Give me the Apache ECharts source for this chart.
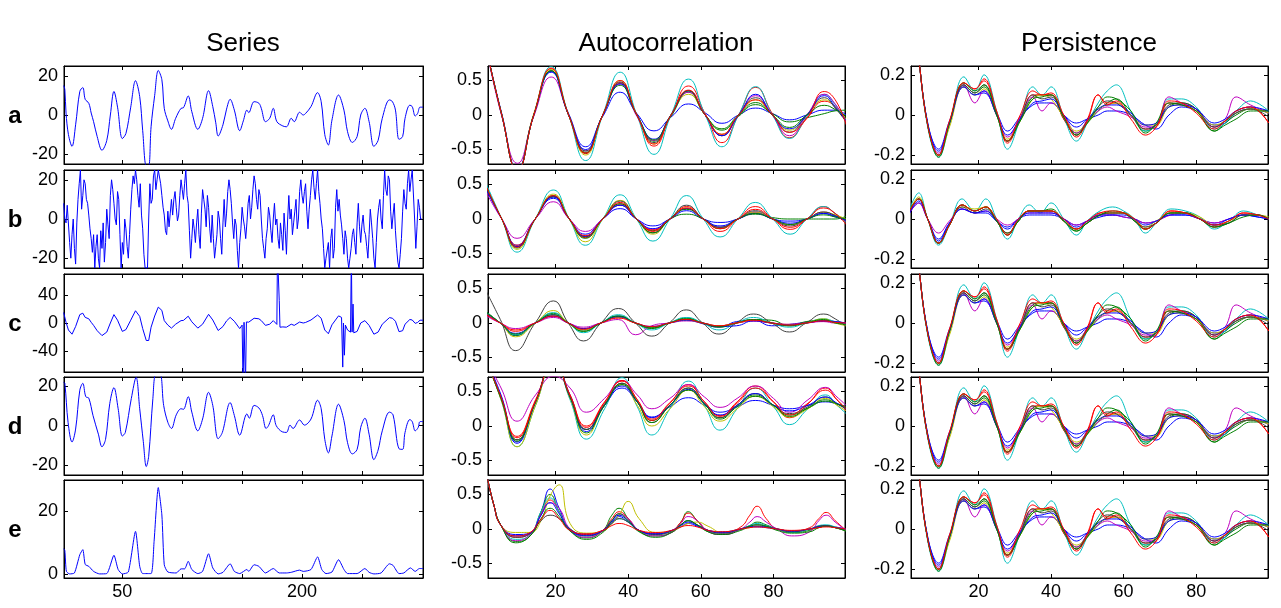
<!DOCTYPE html>
<html>
<head>
<meta charset="UTF-8">
<title></title>
<script src="https://cdn.jsdelivr.net/npm/echarts@6/dist/echarts.min.js"></script>
</head>
<body style="margin:0;background:#fff;">
<div id="echartsDom" style="width:1281px;height:608px;"></div>
<script>
// column titles and row letters
var colTitles = ['Series', 'Autocorrelation', 'Persistence'];
var rowNames = ['a', 'b', 'c', 'd', 'e'];

// tick values
var seriesXTicks = [50, 100, 150, 200, 250];
var seriesXLabels = [50, 200];
var lagTicks = [20, 40, 60, 80];

// left column: the five series, [t, value]
var seriesA = [[1,15],[2,13],[3,1],[5,-10],[8,-16],[11,-5],[14.5,12],[17,14],[19,8],[22,6],[24,1],[26,-3.4],[29,-11],[33,-18],[37,-13],[40,0],[43,12],[46,4],[50,-12],[53,-9.4],[57,4],[61,17.5],[64.5,9.4],[67,-8],[70,-26],[72,-26],[74,-6],[77,10],[80,22.7],[83,18],[85,3.4],[88,-3],[91,-7.3],[94.5,-1.7],[99,3.4],[101,3.7],[105,9.7],[108,1.7],[113,-7.3],[117,-1.7],[122,12.4],[125.5,4.3],[128,-4],[130,-10.7],[134,-5],[137,3],[140,8],[143.5,2.5],[148,-8],[151,-3],[154,2.5],[155.5,1.2],[160,6.8],[164,6],[166,3.4],[169.5,-3.4],[173,-1.7],[176,3.4],[179,-3.4],[184,-5.6],[187,-6],[191,-1.7],[193.5,-3.4],[198,1.4],[201,0],[203,0.8],[207.5,4.3],[213,11.4],[216,6.8],[219,-10],[222,-15.3],[225,-2.6],[230.5,10.2],[235,2.5],[238,-8.5],[242,-14],[246,-11],[249,0],[252.5,3.4],[256,-3.4],[260,-16],[263.5,-13],[267,-1.7],[273,7.7],[275.5,6.8],[278,2.5],[281,-12.4],[284,-11],[286,-1.7],[290,5],[292,4.3],[294.5,-0.5],[296.5,0.8],[298.5,4],[301,4]];

// series b, one value per time step from t = 1
var seriesB = [8,0,-2,7,6,-12,-20,-8,0,-15,-23,-2,10,18,25,5,12,20,18,10,
  8,2,-5,-10,-17,-8,-25,-14,-8,-20,-25,-6,-15,-2,-22,-12,5,-3,-10,12,
  20,15,8,0,-3,14,10,-8,-25,-12,-18,0,-5,-14,-20,-8,5,15,22,18,
  25,20,12,6,18,2,-5,-18,-25,-25,-25,0,18,8,10,22,25,15,20,25,
  25,18,12,6,2,-6,-8,4,-4,3,10,2,10,14,6,-1,2,12,20,15,
  10,18,25,12,8,-6,-20,-10,0,-5,-12,-2,5,-8,-15,3,15,10,5,-4,
  12,6,-5,-12,2,-10,-20,-14,-8,4,0,-10,-18,-2,10,-4,3,14,20,15,
  8,-2,-10,0,-3,-16,-25,-12,-5,6,0,-4,-10,-2,8,12,0,6,15,22,
  18,10,5,15,12,0,-10,-15,-20,-10,-5,6,2,-6,-12,0,8,-3,0,-10,
  -15,-2,-8,-16,3,-6,-18,0,12,0,5,-8,-2,4,10,-5,0,14,20,12,
  8,14,18,4,-5,5,12,20,25,16,10,18,25,14,8,0,-5,-15,-25,-20,
  -20,-12,-25,-10,-5,-20,-15,6,15,4,10,2,-3,-10,-18,-6,-10,-20,-25,-20,
  -15,-8,-5,-12,-18,-2,8,-4,-12,-3,2,-6,-8,-14,-20,-8,5,-2,-10,-20,
  -25,-12,0,6,10,0,-5,12,25,15,12,22,20,4,-5,2,8,-6,-15,-22,
  -25,-18,-10,4,15,8,5,18,25,14,20,25,25,0,-15,-4,10,6,0,0];

var seriesC = [[1,15],[2,13],[3,1],[5,-10],[8,-16],[11,-5],[14.5,12],[17,14],[19,8],[22,6],[24,1],[26,-3.4],[29,-11],[33,-18],[37,-13],[40,0],[43,12],[46,4],[50,-12],[53,-9.4],[57,4],[61,17.5],[64.5,9.4],[67,-8],[70,-25],[72,-25],[74,-6],[77,10],[80,22.7],[83,18],[85,3.4],[88,-3],[91,-7.3],[94.5,-1.7],[99,3.4],[101,3.7],[105,9.7],[108,1.7],[113,-7.3],[117,-1.7],[122,12.4],[125.5,4.3],[128,-4],[130,-10.7],[134,-5],[137,3],[140,8],[143.5,2.5],[148,-8],[150,-3],[150.8,-90],[151.6,1],[152.8,-90],[153.6,1.5],[155.5,1.2],[160,6.8],[164,6],[166,3.4],[169.5,-3.4],[173,-1.7],[176,3.4],[179,-2],[179.5,100],[180.5,100],[181,32],[181.6,-6],[184,-5.6],[187,-6],[191,-1.7],[193.5,-3.4],[198,1.4],[201,0],[203,0.8],[207.5,4.3],[213,11.4],[216,6.8],[219,-10],[222,-15.3],[225,-2.6],[230.5,10.2],[233,8],[234,-63],[234.6,0],[235.4,-46],[236.2,-3],[238,-10],[240.5,-13],[241.2,100],[241.8,-13],[242.6,27],[243.2,-14],[246,-12],[249,0],[252.5,3.4],[256,-3.4],[260,-16],[263.5,-13],[267,-1.7],[273,7.7],[275.5,6.8],[278,2.5],[281,-12.4],[284,-11],[286,-1.7],[290,5],[292,4.3],[294.5,-0.5],[296.5,0.8],[298.5,4],[301,4]];

var seriesD = [[1,22],[2,21.5],[4.7,1.7],[8,-8.3],[11,-1.7],[14.5,18],[17,21.5],[19.5,14.7],[22,14],[25.5,5.2],[30,-4.3],[33,-10.7],[36,-6.9],[39.5,11.2],[43,19.3],[46.5,8.6],[50,-5.2],[52.5,-3.4],[57.5,13.8],[61.5,24.5],[64.5,8.6],[67.5,-8],[70,-20.7],[72,-15.5],[75.5,13.8],[78,26],[81.5,26],[84.5,10.3],[88,1.7],[91,-1.4],[95,5.5],[99,8.6],[101,8.3],[105,14.7],[108,6.9],[113,-2.6],[117,3.4],[122,16.9],[125.5,10.3],[130,-6.6],[133.5,-3.4],[140,11.7],[143.5,5.2],[148,-4.8],[154,6],[156,3.8],[160,10.3],[164,9],[167,5.2],[170,-1.4],[172,0],[176,5.5],[178.5,0],[183.5,-3.1],[187,-3.4],[190,0.3],[192.5,-1.4],[198,2.9],[202,0.3],[207.5,3.4],[213,12.9],[216,8.6],[219,-6.9],[222,-13.8],[225,-5.2],[230.5,10.9],[235,2.6],[238,-8.6],[242,-14.3],[246,-12],[249,-0.9],[252.5,3.8],[256,-4.3],[260,-17.2],[263.5,-12.4],[267,-2.6],[273,6.9],[276,5.5],[281,-11.7],[284,-12],[286,-3.4],[290,3.1],[292,2.1],[294.5,-2.6],[297,-0.9],[298.5,2.1],[301,2.1]];

var seriesE = [[1,8],[2,7.4],[3.3,0.8],[6,0],[10,0.3],[14.5,6.1],[17,7.7],[19,3],[22,2.4],[26,0.8],[31,0],[37,0.1],[43,5.9],[46.5,1.4],[50,0],[55,0.6],[61,13.5],[64.5,2.4],[67,0.1],[74,0.1],[76.5,10.3],[80,27.4],[83,18.7],[85,2.9],[88,0.6],[95,0.3],[99,1.6],[102,1.6],[105,4],[108,1.4],[113,0.1],[117,0.8],[122,6.4],[125.5,1.9],[130,0],[134,0.5],[140,3.2],[143.5,0.8],[148,0.1],[154,1.4],[155.5,0.8],[160,2.9],[164,2.4],[169.5,0.3],[176,1.7],[181,0.3],[187,0.3],[191,0.5],[198,1.2],[201,0.8],[207.5,1.4],[213,5.4],[216.5,1.4],[220,0.1],[225,0.6],[230.5,4.5],[235,1.4],[238,0.1],[246,0.1],[252.5,1.7],[256,0.5],[260,0],[266,0.3],[273,3.2],[276,2.7],[281,0.1],[285,0.3],[290.5,1.9],[294.5,0.8],[298,1.7],[301,1.7]];

// autocorrelation: lags of the read points, one row per curve
var lineColors = ['#0000ff', '#008000', '#ff0000', '#00bfbf', '#bf00bf', '#bfbf00', '#404040', '#0000ff', '#008000', '#ff0000'];

var acLagsA = [1, 5.2, 9.5, 14, 18.8, 23.6, 28.3, 33, 37.8, 42.4, 47.1, 51.8, 56.6, 61.2, 65.8, 70.4, 75.1, 79.7, 84.4, 89.2, 94, 97, 100];
var acA = [
  [0.95, 0.02, -0.78, 0.0, 0.62, 0.02, -0.46, -0.02, 0.33, 0.02, -0.23, -0.03, 0.16, 0.03, -0.12, 0.0, 0.10, 0.02, -0.07, 0.0, 0.07, 0.07, 0.0],
  [0.95, 0.0, -0.8, 0.0, 0.64, 0.0, -0.54, 0.0, 0.46, 0.0, -0.38, -0.02, 0.33, 0.0, -0.22, -0.02, 0.15, 0.02, -0.10, -0.04, 0.02, 0.06, 0.07],
  [0.95, 0.0, -0.8, 0.0, 0.67, 0.0, -0.56, 0.0, 0.47, 0.0, -0.45, 0.0, 0.42, 0.02, -0.40, 0.0, 0.40, 0.02, -0.33, -0.05, 0.20, 0.12, -0.10],
  [0.95, 0.0, -0.8, 0.0, 0.70, 0.0, -0.66, 0.0, 0.62, 0.0, -0.57, 0.0, 0.52, 0.0, -0.46, 0.0, 0.41, 0.0, -0.34, -0.02, 0.30, 0.15, -0.08],
  [0.95, -0.02, -0.70, -0.02, 0.55, 0.0, -0.52, 0.0, 0.45, -0.02, -0.37, 0.0, 0.33, 0.0, -0.30, 0.0, 0.28, 0.0, -0.30, 0.0, 0.30, 0.16, -0.10],
  [0.95, 0.0, -0.8, 0.02, 0.66, 0.0, -0.58, 0.0, 0.50, 0.0, -0.42, 0.0, 0.30, 0.0, -0.28, 0.0, 0.22, 0.0, -0.22, 0.0, 0.22, 0.12, -0.06],
  [0.95, 0.0, -0.8, 0.0, 0.64, 0.0, -0.52, 0.0, 0.48, 0.0, -0.40, 0.0, 0.35, 0.0, -0.30, 0.0, 0.25, 0.0, -0.25, 0.0, 0.25, 0.10, -0.10],
  [0.95, 0.0, -0.8, 0.0, 0.63, 0.0, -0.50, 0.0, 0.45, 0.0, -0.35, 0.0, 0.35, 0.0, -0.30, 0.0, 0.30, 0.0, -0.20, 0.0, 0.28, 0.12, -0.08],
  [0.95, 0.0, -0.8, 0.0, 0.64, 0.0, -0.55, 0.0, 0.43, 0.0, -0.36, 0.0, 0.35, 0.0, -0.20, 0.0, 0.18, 0.0, -0.18, 0.0, 0.14, 0.08, -0.02],
  [0.95, 0.0, -0.8, 0.0, 0.68, 0.0, -0.55, 0.0, 0.50, 0.0, -0.42, 0.0, 0.36, 0.0, -0.28, 0.0, 0.22, 0.0, -0.25, -0.04, 0.34, 0.22, -0.14]
];

var acLagsB = [1, 5.2, 9.4, 14.4, 19.4, 23.8, 28.2, 33, 37.8, 42.3, 46.8, 51.5, 56.1, 60.7, 65.3, 70.2, 75, 79.8, 84.6, 89.2, 93.8, 97, 100];
var acB = [
  [0.42, 0.0, -0.38, 0.0, 0.30, 0.0, -0.22, 0.0, 0.15, 0.0, -0.10, 0.0, 0.12, 0.0, -0.05, 0.0, 0.10, 0.0, -0.03, 0.0, 0.08, 0.03, -0.02],
  [0.45, 0.0, -0.40, 0.0, 0.32, 0.0, -0.26, 0.0, 0.20, 0.0, -0.17, 0.0, 0.07, 0.0, -0.12, 0.0, 0.07, 0.02, 0.0, 0.0, 0.0, 0.0, 0.04],
  [0.45, 0.0, -0.38, 0.0, 0.33, 0.0, -0.27, 0.0, 0.22, 0.0, -0.18, 0.0, 0.18, 0.0, -0.18, 0.0, 0.18, 0.0, -0.15, 0.0, 0.18, 0.08, -0.05],
  [0.50, 0.0, -0.48, 0.0, 0.42, 0.0, -0.38, 0.0, 0.35, 0.0, -0.32, 0.0, 0.34, 0.0, -0.26, 0.0, 0.24, 0.0, -0.22, 0.0, 0.18, 0.08, -0.05],
  [0.38, 0.0, -0.28, 0.0, 0.25, 0.0, -0.18, 0.0, 0.20, 0.0, -0.15, 0.0, 0.15, 0.0, -0.12, 0.0, 0.10, 0.0, -0.08, 0.0, 0.10, 0.05, -0.03],
  [0.45, 0.0, -0.44, 0.0, 0.36, 0.0, -0.33, 0.0, 0.27, 0.0, -0.22, 0.0, 0.16, 0.0, -0.14, 0.0, 0.10, 0.0, -0.08, 0.0, 0.10, 0.06, 0.0],
  [0.45, 0.0, -0.40, 0.0, 0.33, 0.0, -0.25, 0.0, 0.26, 0.0, -0.20, 0.0, 0.20, 0.0, -0.12, 0.0, 0.12, 0.0, -0.10, 0.0, 0.10, 0.05, -0.03],
  [0.42, 0.0, -0.40, 0.0, 0.32, 0.0, -0.25, 0.0, 0.20, 0.0, -0.14, 0.0, 0.15, 0.0, -0.10, 0.0, 0.08, 0.0, -0.06, 0.0, 0.08, 0.04, -0.02],
  [0.45, 0.0, -0.42, 0.0, 0.34, 0.0, -0.28, 0.0, 0.22, 0.0, -0.20, 0.0, 0.14, 0.0, -0.14, 0.0, 0.08, 0.0, -0.08, 0.0, 0.06, 0.03, 0.0],
  [0.46, 0.0, -0.41, 0.0, 0.34, 0.0, -0.24, 0.0, 0.24, 0.0, -0.16, 0.0, 0.16, 0.0, -0.14, 0.0, 0.14, 0.0, -0.12, 0.0, 0.16, 0.08, -0.08]
];

var acLagsC = [1, 4.8, 9, 14.4, 19.4, 23.5, 27.7, 32.5, 37.3, 42, 46.5, 51.3, 56, 60.5, 65, 69.8, 74.5, 79.5, 84.4, 89, 93.8, 97, 100];
var acC = [
  [0.15, 0.0, -0.18, 0.0, 0.12, 0.0, -0.10, 0.0, 0.10, 0.0, -0.06, 0.0, 0.05, -0.01, -0.06, 0.02, 0.04, -0.04, -0.02, 0.01, 0.03, 0.02, 0.0],
  [0.16, 0.0, -0.18, 0.0, 0.14, 0.0, -0.12, 0.0, 0.10, 0.0, -0.08, 0.0, 0.07, 0.0, -0.06, 0.0, 0.05, 0.04, -0.04, 0.02, 0.04, 0.01, -0.02],
  [0.12, 0.0, -0.12, 0.0, 0.10, 0.0, -0.08, 0.0, 0.08, 0.0, -0.06, 0.0, 0.05, 0.0, -0.04, 0.0, 0.03, 0.0, -0.02, 0.0, 0.03, 0.01, 0.0],
  [0.15, 0.0, -0.17, 0.0, 0.15, 0.0, -0.14, 0.0, 0.12, 0.0, -0.10, 0.0, 0.08, 0.0, -0.10, 0.0, 0.08, 0.0, -0.06, 0.0, 0.06, 0.02, -0.02],
  [0.10, 0.0, -0.08, 0.0, 0.08, 0.0, -0.06, 0.0, 0.05, -0.17, -0.04, 0.0, 0.03, 0.0, -0.04, 0.0, 0.03, 0.0, -0.02, 0.0, 0.02, 0.0, 0.0],
  [0.14, 0.0, -0.20, 0.0, 0.18, 0.0, -0.10, 0.0, 0.08, 0.0, -0.06, 0.0, 0.04, 0.0, -0.04, 0.0, 0.04, 0.0, -0.03, 0.0, 0.06, 0.0, -0.04],
  [0.45, 0.05, -0.40, 0.0, 0.32, 0.0, -0.26, 0.0, 0.21, 0.0, -0.19, 0.0, 0.19, 0.0, -0.16, 0.0, 0.13, 0.0, -0.13, 0.0, 0.13, 0.06, -0.05],
  [0.14, 0.0, -0.15, 0.0, 0.10, 0.0, -0.08, 0.0, 0.09, 0.0, -0.05, 0.0, 0.04, 0.0, -0.05, -0.04, 0.03, 0.0, -0.03, 0.0, 0.03, 0.02, 0.0],
  [0.15, 0.0, -0.16, 0.0, 0.12, 0.0, -0.12, 0.0, 0.10, 0.0, -0.07, 0.0, 0.06, 0.0, -0.05, 0.0, 0.05, 0.0, -0.04, 0.0, 0.05, 0.0, -0.02],
  [0.12, 0.0, -0.10, 0.0, 0.10, 0.0, -0.09, 0.0, 0.07, 0.0, -0.05, 0.0, 0.05, 0.0, -0.04, 0.0, 0.04, 0.0, -0.03, 0.0, 0.03, 0.01, 0.0]
];

var acLagsD = [1, 5, 9.4, 14.5, 19.5, 24, 28.5, 33.5, 38.3, 42.5, 46.5, 51.5, 56.6, 61, 65.3, 70, 75, 80, 84.4, 89.5, 94.3, 97.5, 100];
var acD = [
  [0.95, 0.45, -0.23, 0.35, 0.95, 0.45, -0.05, 0.30, 0.55, 0.35, 0.13, 0.28, 0.41, 0.30, 0.20, 0.28, 0.37, 0.30, 0.25, 0.30, 0.35, 0.32, 0.28],
  [0.95, 0.40, -0.20, 0.35, 0.95, 0.42, -0.05, 0.30, 0.62, 0.35, 0.08, 0.30, 0.55, 0.32, 0.12, 0.30, 0.45, 0.30, 0.16, 0.26, 0.36, 0.32, 0.28],
  [0.95, 0.40, -0.15, 0.38, 0.95, 0.45, 0.0, 0.35, 0.65, 0.38, 0.08, 0.33, 0.60, 0.35, 0.15, 0.35, 0.58, 0.35, 0.12, 0.32, 0.55, 0.38, 0.22],
  [0.95, 0.38, -0.30, 0.30, 0.95, 0.38, -0.19, 0.25, 0.70, 0.28, -0.13, 0.25, 0.65, 0.30, -0.06, 0.25, 0.55, 0.28, 0.02, 0.25, 0.45, 0.30, 0.18],
  [0.95, 0.55, 0.07, 0.45, 0.72, 0.55, 0.20, 0.40, 0.66, 0.45, 0.25, 0.40, 0.60, 0.42, 0.27, 0.40, 0.58, 0.40, 0.20, 0.38, 0.56, 0.42, 0.30],
  [0.95, 0.38, -0.30, 0.30, 0.95, 0.40, -0.13, 0.30, 0.60, 0.30, 0.0, 0.25, 0.52, 0.28, 0.07, 0.25, 0.43, 0.28, 0.13, 0.25, 0.40, 0.30, 0.22],
  [0.95, 0.40, -0.20, 0.35, 0.95, 0.42, -0.05, 0.32, 0.62, 0.35, 0.05, 0.30, 0.55, 0.32, 0.12, 0.30, 0.47, 0.30, 0.18, 0.28, 0.42, 0.32, 0.25],
  [0.95, 0.42, -0.25, 0.35, 0.95, 0.42, -0.08, 0.30, 0.58, 0.35, 0.12, 0.30, 0.53, 0.33, 0.16, 0.30, 0.47, 0.30, 0.22, 0.30, 0.42, 0.33, 0.25],
  [0.95, 0.40, -0.22, 0.35, 0.95, 0.42, -0.10, 0.30, 0.60, 0.35, 0.05, 0.30, 0.52, 0.32, 0.10, 0.28, 0.43, 0.30, 0.14, 0.26, 0.38, 0.32, 0.26],
  [0.95, 0.42, -0.17, 0.36, 0.95, 0.44, -0.02, 0.34, 0.66, 0.38, 0.10, 0.34, 0.58, 0.35, 0.14, 0.33, 0.55, 0.35, 0.16, 0.33, 0.52, 0.38, 0.25]
];

var acLagsE = [1, 3, 5, 9, 13, 16, 18.5, 21, 24, 28.5, 33, 35.5, 37.5, 40, 43, 47.5, 52, 54.5, 56.5, 59, 62, 66, 71, 73.5, 75.5, 78, 81, 85, 90, 92.5, 94.5, 97, 100];
var acE = [
  [0.8, 0.35, 0.05, -0.08, -0.06, 0.25, 0.58, 0.30, 0.0, -0.07, -0.02, 0.10, 0.18, 0.10, -0.02, -0.07, -0.03, 0.03, 0.08, 0.04, -0.02, -0.04, 0.0, 0.03, 0.03, 0.02, 0.0, -0.03, 0.0, 0.04, 0.05, 0.03, 0.0],
  [0.8, 0.35, 0.05, -0.18, -0.10, 0.25, 0.50, 0.25, -0.02, -0.13, -0.02, 0.20, 0.30, 0.15, -0.04, -0.10, -0.04, 0.10, 0.25, 0.12, -0.04, -0.08, 0.0, 0.05, 0.10, 0.06, 0.0, -0.05, -0.02, 0.04, 0.05, 0.02, -0.03],
  [0.8, 0.35, 0.05, -0.12, -0.06, 0.22, 0.42, 0.25, -0.02, -0.08, -0.02, 0.15, 0.25, 0.15, -0.02, -0.06, -0.02, 0.10, 0.23, 0.12, -0.02, -0.06, 0.03, 0.20, 0.33, 0.15, 0.0, -0.03, 0.02, 0.15, 0.24, 0.12, -0.02],
  [0.8, 0.35, 0.05, -0.15, -0.08, 0.25, 0.45, 0.25, -0.02, -0.10, -0.03, 0.08, 0.15, 0.10, -0.03, -0.08, -0.03, 0.06, 0.12, 0.06, -0.03, -0.06, 0.0, 0.05, 0.08, 0.05, 0.0, -0.05, 0.0, 0.05, 0.06, 0.03, -0.02],
  [0.8, 0.35, 0.05, -0.17, -0.08, 0.20, 0.38, 0.30, 0.0, -0.12, -0.03, 0.12, 0.22, 0.15, -0.02, -0.10, -0.05, 0.08, 0.18, 0.12, -0.03, -0.08, 0.0, 0.10, 0.18, 0.10, 0.0, -0.10, -0.04, 0.12, 0.20, 0.10, -0.02],
  [0.8, 0.35, 0.05, -0.05, -0.05, 0.12, 0.48, 0.64, 0.08, -0.06, -0.03, 0.08, 0.20, 0.40, 0.15, -0.05, -0.03, 0.03, 0.08, 0.10, 0.04, -0.05, 0.0, 0.02, 0.04, 0.03, 0.0, -0.03, 0.0, 0.02, 0.04, 0.02, -0.02],
  [0.8, 0.35, 0.05, -0.12, -0.07, 0.12, 0.20, 0.15, 0.0, -0.10, -0.03, 0.08, 0.15, 0.10, -0.02, -0.08, -0.03, 0.06, 0.12, 0.06, -0.02, -0.06, 0.0, 0.04, 0.06, 0.04, 0.0, -0.04, 0.0, 0.04, 0.05, 0.02, -0.02],
  [0.8, 0.35, 0.05, -0.10, -0.06, 0.20, 0.38, 0.22, -0.02, -0.09, -0.02, 0.12, 0.20, 0.12, -0.02, -0.07, -0.02, 0.05, 0.10, 0.05, -0.02, -0.05, 0.0, 0.03, 0.04, 0.03, 0.0, -0.03, 0.0, 0.03, 0.04, 0.02, 0.0],
  [0.8, 0.35, 0.05, -0.20, -0.10, 0.15, 0.30, 0.18, -0.03, -0.15, -0.05, 0.12, 0.22, 0.12, -0.03, -0.12, -0.05, 0.06, 0.12, 0.06, -0.04, -0.08, -0.02, 0.04, 0.06, 0.04, -0.02, -0.06, -0.04, 0.02, 0.04, 0.02, -0.03],
  [0.8, 0.35, 0.05, -0.10, -0.05, 0.14, 0.27, 0.15, -0.02, -0.07, -0.02, 0.05, 0.08, 0.05, -0.02, -0.05, -0.02, 0.03, 0.05, 0.03, -0.02, -0.04, 0.0, 0.02, 0.03, 0.02, 0.0, -0.02, 0.0, 0.02, 0.03, 0.02, 0.0]
];

// persistence: rows a, c, d and e show the same curves, row b its own
var persLags = [1, 3, 6, 9, 12, 16, 19, 21.5, 25, 28, 31.5, 35, 37.5, 40, 43.5, 47, 50, 53, 55.5, 58, 62, 66, 69, 72.5, 76, 80, 85, 88, 91, 95, 100];
var persMain = [
  [0.6, 0.36, -0.04, -0.17, -0.03, 0.14, 0.10, 0.11, 0.01, -0.08, -0.01, 0.05, 0.06, 0.06, 0.0, -0.04, -0.02, 0.0, 0.02, 0.02, 0.0, -0.05, -0.07, 0.0, 0.04, 0.02, -0.05, -0.04, 0.01, 0.03, 0.01],
  [0.6, 0.36, -0.05, -0.20, -0.04, 0.15, 0.11, 0.14, 0.0, -0.13, -0.02, 0.09, 0.10, 0.10, -0.02, -0.09, -0.04, 0.02, 0.06, 0.08, 0.0, -0.08, -0.05, 0.04, 0.06, 0.03, -0.08, -0.04, 0.0, 0.03, 0.02],
  [0.6, 0.36, -0.05, -0.20, -0.04, 0.16, 0.13, 0.17, 0.01, -0.14, -0.02, 0.10, 0.10, 0.10, -0.02, -0.10, -0.02, 0.10, 0.06, 0.06, 0.0, -0.07, -0.06, 0.06, 0.05, 0.02, -0.06, -0.03, 0.02, 0.04, -0.04],
  [0.6, 0.36, -0.06, -0.21, -0.05, 0.19, 0.12, 0.20, 0.02, -0.17, -0.02, 0.14, 0.10, 0.14, -0.01, -0.13, -0.04, 0.06, 0.12, 0.15, 0.02, -0.08, -0.05, 0.08, 0.08, 0.04, -0.07, -0.04, 0.02, 0.07, 0.02],
  [0.6, 0.36, -0.05, -0.19, -0.04, 0.15, 0.06, 0.12, 0.0, -0.11, -0.01, 0.09, 0.02, 0.06, 0.0, -0.09, -0.03, 0.02, 0.04, 0.02, -0.01, -0.06, -0.05, 0.09, 0.06, 0.03, -0.06, -0.02, 0.09, 0.05, 0.01],
  [0.6, 0.36, -0.05, -0.20, -0.06, 0.14, 0.10, 0.13, 0.0, -0.12, -0.03, 0.08, 0.10, 0.08, -0.01, -0.08, -0.04, 0.03, 0.05, 0.06, 0.0, -0.05, -0.05, 0.04, 0.05, 0.02, -0.05, -0.03, 0.01, 0.03, 0.01],
  [0.6, 0.36, -0.05, -0.20, -0.04, 0.15, 0.11, 0.15, 0.01, -0.13, -0.02, 0.10, 0.08, 0.09, -0.01, -0.10, -0.03, 0.04, 0.07, 0.06, 0.0, -0.07, -0.05, 0.05, 0.06, 0.03, -0.06, -0.03, 0.01, 0.03, -0.01],
  [0.6, 0.36, -0.04, -0.18, -0.04, 0.14, 0.10, 0.12, 0.0, -0.10, -0.02, 0.06, 0.07, 0.08, 0.0, -0.06, -0.02, 0.03, 0.05, 0.05, 0.01, -0.05, -0.04, 0.04, 0.05, 0.03, -0.04, -0.02, 0.02, 0.04, 0.02],
  [0.6, 0.36, -0.05, -0.21, -0.04, 0.16, 0.12, 0.15, 0.0, -0.13, -0.03, 0.08, 0.09, 0.10, -0.01, -0.10, -0.04, 0.04, 0.09, 0.08, 0.02, -0.09, -0.04, 0.06, 0.05, 0.02, -0.08, -0.05, -0.02, 0.02, 0.02],
  [0.6, 0.36, -0.05, -0.20, -0.03, 0.16, 0.13, 0.18, 0.02, -0.13, 0.0, 0.12, 0.10, 0.11, 0.0, -0.11, -0.03, 0.10, 0.05, 0.07, -0.02, -0.10, -0.06, 0.07, 0.06, 0.01, -0.07, -0.03, 0.02, 0.04, -0.04]
];

var persLagsB = [1, 3.5, 6, 9, 12, 15.5, 19, 22, 25, 28, 31, 34, 37, 40, 43.5, 47, 50, 53.5, 57, 60, 63, 66, 69, 73, 77, 81, 85, 89, 93, 97, 100];
var persB = [
  [0.03, 0.08, 0.0, -0.10, -0.02, 0.05, 0.03, 0.03, -0.01, -0.04, 0.0, 0.02, 0.02, 0.02, 0.0, -0.03, -0.01, 0.01, 0.02, 0.01, 0.0, -0.02, -0.01, 0.02, 0.02, 0.0, -0.02, 0.0, 0.02, 0.01, 0.0],
  [0.04, 0.10, 0.0, -0.12, -0.03, 0.07, 0.04, 0.06, -0.01, -0.07, -0.01, 0.04, 0.04, 0.04, -0.01, -0.06, -0.02, 0.02, 0.03, 0.03, -0.01, -0.05, -0.02, 0.03, 0.03, 0.0, -0.04, -0.02, 0.02, 0.02, 0.0],
  [0.04, 0.10, 0.0, -0.12, -0.03, 0.07, 0.04, 0.06, -0.01, -0.08, 0.0, 0.04, 0.04, 0.04, -0.01, -0.05, -0.01, 0.03, 0.03, 0.03, 0.0, -0.05, -0.02, 0.04, 0.03, 0.0, -0.04, -0.01, 0.03, 0.02, 0.0],
  [0.05, 0.13, 0.0, -0.13, -0.03, 0.10, 0.04, 0.10, 0.0, -0.10, 0.0, 0.07, 0.03, 0.08, 0.0, -0.08, -0.01, 0.04, 0.06, 0.04, 0.0, -0.07, -0.02, 0.05, 0.04, 0.01, -0.05, -0.01, 0.04, 0.02, 0.0],
  [0.03, 0.08, 0.0, -0.07, -0.01, 0.05, 0.03, 0.04, 0.0, -0.03, 0.0, 0.03, 0.03, 0.03, 0.0, -0.03, -0.01, 0.02, 0.02, 0.01, 0.0, -0.02, -0.01, 0.02, 0.03, 0.0, -0.02, 0.0, 0.02, 0.02, 0.0],
  [0.04, 0.11, 0.0, -0.12, -0.03, 0.06, 0.05, 0.06, -0.01, -0.07, -0.01, 0.04, 0.04, 0.04, -0.01, -0.05, -0.02, 0.02, 0.03, 0.03, 0.0, -0.04, -0.01, 0.03, 0.03, 0.01, -0.03, -0.01, 0.02, 0.02, 0.01],
  [0.04, 0.10, 0.0, -0.12, -0.03, 0.06, 0.03, 0.05, -0.01, -0.07, -0.01, 0.04, 0.04, 0.04, -0.01, -0.05, -0.02, 0.02, 0.03, 0.03, -0.01, -0.04, -0.02, 0.03, 0.03, 0.0, -0.03, -0.02, 0.02, 0.02, 0.0],
  [0.03, 0.09, 0.0, -0.11, -0.02, 0.05, 0.03, 0.04, -0.01, -0.05, 0.0, 0.03, 0.03, 0.03, 0.0, -0.04, -0.01, 0.02, 0.02, 0.02, 0.0, -0.03, -0.01, 0.02, 0.02, 0.0, -0.03, 0.0, 0.02, 0.01, 0.0],
  [0.04, 0.10, 0.0, -0.12, -0.03, 0.07, 0.04, 0.06, -0.01, -0.08, -0.01, 0.04, 0.04, 0.05, -0.01, -0.06, -0.02, 0.02, 0.04, 0.03, -0.01, -0.05, -0.02, 0.03, 0.03, 0.0, -0.04, -0.02, 0.01, 0.02, 0.0],
  [0.04, 0.10, 0.0, -0.12, -0.03, 0.07, 0.04, 0.06, 0.0, -0.08, 0.0, 0.04, 0.04, 0.04, 0.0, -0.05, -0.01, 0.03, 0.04, 0.03, 0.0, -0.05, -0.02, 0.04, 0.03, 0.0, -0.03, -0.01, 0.03, 0.02, 0.0]
];

var colLeft = [64, 488, 911];
var colWidth = [359, 357, 357];
var rowTop = [66, 170, 274, 377, 480];
var rowHeight = 98;
var fontName = 'Liberation Sans, Arial, sans-serif';

var grids = [], xAxes = [], yAxes = [], allSeries = [], graphics = [];

function pairs(lags, vals) {
  return lags.map(function (l, i) { return [l, vals[i]]; });
}

function addPanel(r, c, xr, yr, xTicks, xLabels, yTicks) {
  var g = grids.length;
  grids.push({
    left: colLeft[c], top: rowTop[r], width: colWidth[c], height: rowHeight,
    show: true, borderColor: '#000', borderWidth: 1, backgroundColor: '#fff'
  });
  var tick = { show: true, inside: true, length: 4, lineStyle: { color: '#000', width: 1 } };
  var line = { show: true, onZero: false, lineStyle: { color: '#000', width: 1 } };
  xAxes.push({
    type: 'value', gridIndex: g, position: 'bottom', min: xr[0], max: xr[1],
    axisLine: line,
    axisTick: Object.assign({ customValues: xTicks }, tick),
    axisLabel: { show: r === 4, customValues: xLabels, fontSize: 18, color: '#000', fontFamily: fontName, margin: 5 },
    splitLine: { show: false }
  });
  xAxes.push({
    type: 'value', gridIndex: g, position: 'top', min: xr[0], max: xr[1],
    axisLine: line,
    axisTick: Object.assign({ customValues: xTicks }, tick),
    axisLabel: { show: false }, splitLine: { show: false }
  });
  yAxes.push({
    type: 'value', gridIndex: g, position: 'left', min: yr[0], max: yr[1],
    axisLine: line,
    axisTick: Object.assign({ customValues: yTicks }, tick),
    axisLabel: { customValues: yTicks, fontSize: 18, color: '#000', fontFamily: fontName, margin: 6 },
    splitLine: { show: false }
  });
  yAxes.push({
    type: 'value', gridIndex: g, position: 'right', min: yr[0], max: yr[1],
    axisLine: line,
    axisTick: Object.assign({ customValues: yTicks }, tick),
    axisLabel: { show: false }, splitLine: { show: false }
  });
  return g;
}

function addLine(g, data, color, smooth) {
  allSeries.push({
    type: 'line', xAxisIndex: 2 * g, yAxisIndex: 2 * g, data: data,
    showSymbol: false, symbol: 'none', smooth: smooth, clip: true,
    lineStyle: { color: color, width: 1 }, silent: true
  });
}

var seriesPanels = [
  { data: seriesA, y: [-25, 25], ticks: [-20, 0, 20], smooth: 0.35 },
  { data: seriesB.map(function (v, i) { return [1 + i, v]; }), y: [-25, 25], ticks: [-20, 0, 20], smooth: false },
  { data: seriesC, y: [-70, 70], ticks: [-40, 0, 40], smooth: false },
  { data: seriesD, y: [-25, 24.7], ticks: [-20, 0, 20], smooth: 0.35 },
  { data: seriesE, y: [-1.3, 29.8], ticks: [0, 20], smooth: 0.2 }
];
var acPanels = [[acLagsA, acA], [acLagsB, acB], [acLagsC, acC], [acLagsD, acD], [acLagsE, acE]];
var persPanels = [[persLags, persMain], [persLagsB, persB], [persLags, persMain], [persLags, persMain], [persLags, persMain]];

for (var r = 0; r < 5; r++) {
  var g0 = addPanel(r, 0, [1.3, 301], seriesPanels[r].y, seriesXTicks, seriesXLabels, seriesPanels[r].ticks);
  addLine(g0, seriesPanels[r].data, '#0000ff', seriesPanels[r].smooth);

  var g1 = addPanel(r, 1, [1.4, 99.7], [-0.71, 0.71], lagTicks, lagTicks, [-0.5, 0, 0.5]);
  acPanels[r][1].forEach(function (vals, k) {
    addLine(g1, pairs(acPanels[r][0], vals), lineColors[k], 0.5);
  });

  var g2 = addPanel(r, 2, [1.4, 99.8], [-0.244, 0.244], lagTicks, lagTicks, [-0.2, 0, 0.2]);
  persPanels[r][1].forEach(function (vals, k) {
    addLine(g2, pairs(persPanels[r][0], vals), lineColors[k], 0.4);
  });

  graphics.push({
    type: 'text', x: 15, y: rowTop[r] + 62,
    style: { text: rowNames[r], fontSize: 24, fontWeight: 'bold', fontFamily: fontName, fill: '#000', align: 'center', verticalAlign: 'bottom' }
  });
}

var titleX = [243, 666, 1089];
colTitles.forEach(function (t, c) {
  graphics.push({
    type: 'text', x: titleX[c], y: 57,
    style: { text: t, fontSize: 26, fontFamily: fontName, fill: '#000', align: 'center', verticalAlign: 'bottom' }
  });
});

var myChart = echarts.init(document.getElementById('echartsDom'));
myChart.setOption({
  animation: false,
  backgroundColor: '#fff',
  grid: grids,
  xAxis: xAxes,
  yAxis: yAxes,
  series: allSeries,
  graphic: graphics
});
</script>
</body>
</html>
